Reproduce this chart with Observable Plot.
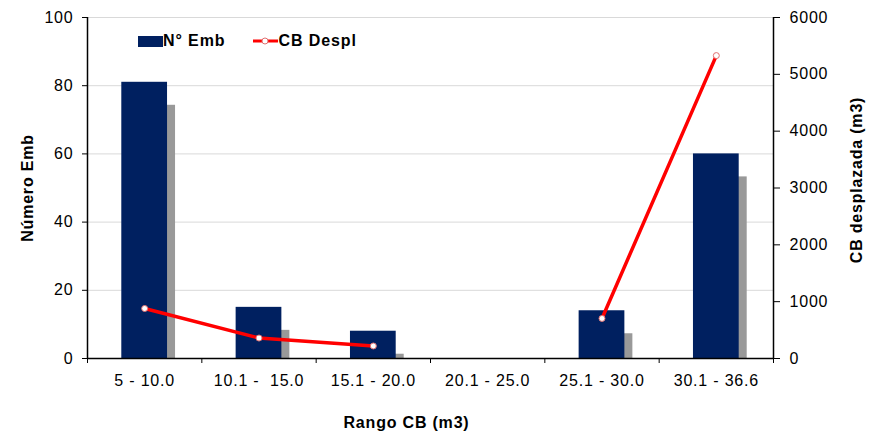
<!DOCTYPE html>
<html>
<head>
<meta charset="utf-8">
<script src="https://cdn.jsdelivr.net/npm/d3@7"></script>
<script src="https://cdn.jsdelivr.net/npm/@observablehq/plot@0.6"></script>
<style>
  html, body { margin: 0; padding: 0; background: #fff; }
  #wrap { position: relative; width: 881px; height: 435px; font-family: "Liberation Sans", Arial, sans-serif; }
  #wrap svg text { white-space: pre; letter-spacing: 0.8px; }
  #wrap g[aria-label="title-left"] text, #wrap g[aria-label="title-bottom"] text { letter-spacing: 1.2px; }
  #wrap g[aria-label="title-right"] text { letter-spacing: 0px; }
  #wrap g[aria-label="shadow"] { filter: blur(0.7px); }
  #legend { position: absolute; left: 138px; top: 32px; display: flex; align-items: center; font-weight: bold; font-size: 16px; letter-spacing: 0.9px; color: #000; }
  #legend .sw { display: inline-block; width: 25px; height: 11px; background: #002060; }
  #legend .item { display: flex; align-items: center; }
</style>
</head>
<body>
<div id="wrap">
  <div id="legend">
    <span class="item"><span class="sw"></span><span>N° Emb</span></span>
    <span class="item" style="margin-left:28px"><svg width="25" height="12"><line x1="0" y1="6" x2="25" y2="6" stroke="#ff0000" stroke-width="3"/><circle cx="12" cy="6" r="3" fill="#fff" stroke="#e07070" stroke-width="1"/></svg><span>CB Despl</span></span>
  </div>
</div>
<script>
const categories = ["5 - 10.0", "10.1 -  15.0", "15.1 - 20.0", "20.1 - 25.0", "25.1 - 30.0", "30.1 - 36.6"];
const numEmb = [81, 15, 8, 0, 14, 60];
const cbDespl = [880, 360, 220, null, 705, 5330];
const leftTicks = [0, 20, 40, 60, 80, 100];
const rightTicks = [0, 1000, 2000, 3000, 4000, 5000, 6000];
const rightMax = 6000;
const leftMax = 100;
const k = rightMax / leftMax;
const titleLeft = "Número Emb";
const titleRight = "CB desplazada (m3)";
const titleBottom = "Rango CB (m3)";

const data = categories.map((c, i) => ({ i, cat: c, emb: numEmb[i], cb: cbDespl[i] }));
const navy = "#002060";

const chart = Plot.plot({
  width: 881,
  height: 435,
  marginLeft: 87,
  marginRight: 108,
  marginTop: 17,
  marginBottom: 77,
  style: { fontFamily: "Liberation Sans, Arial, sans-serif", fontSize: "16px", color: "#000", background: "#fff" },
  x: { domain: [0, categories.length] },
  y: { domain: [0, leftMax] },
  marks: [
    Plot.gridY(leftTicks, { stroke: "#d9d9d9", strokeOpacity: 1 }),
    Plot.rectY(data, { x1: d => d.i + 0.3, x2: d => d.i + 0.7, y: "emb", fill: "#999", dx: 8, dy: 23, clip: true, ariaLabel: "shadow" }),
    Plot.rectY(data, { x1: d => d.i + 0.3, x2: d => d.i + 0.7, y: "emb", fill: navy }),
    Plot.ruleY([0], { stroke: "#000", strokeWidth: 1.5 }),
    Plot.ruleX([0, categories.length], { stroke: "#000", strokeWidth: 1.5 }),
    Plot.line(data, { x: d => d.i + 0.5, y: d => d.cb == null ? NaN : d.cb / k, stroke: "#ff0000", strokeWidth: 3.5 }),
    Plot.dot(data.filter(d => d.cb != null), { x: d => d.i + 0.5, y: d => d.cb / k, r: 3, fill: "#fff", stroke: "#e07070", strokeWidth: 1 }),
    Plot.axisY(leftTicks, { anchor: "left", tickSize: 5, tickPadding: 9, label: null }),
    Plot.axisY(rightTicks.map(v => v / k), { anchor: "right", tickSize: 6, tickPadding: 10, tickFormat: d => String(Math.round(d * k)), label: null }),
    Plot.axisX(d3.range(categories.length + 1), { anchor: "bottom", tickSize: 5, tickFormat: () => "", label: null }),
    Plot.axisX(categories.map((c, i) => i + 0.5), { anchor: "bottom", tickSize: 0, tickPadding: 16, tickFormat: d => categories[Math.floor(d)], label: null }),
    Plot.text([titleLeft], { frameAnchor: "left", dx: -60, rotate: -90, textAnchor: "middle", lineAnchor: "middle", fontWeight: "bold", fontSize: 16, ariaLabel: "title-left" }),
    Plot.text([titleRight], { frameAnchor: "right", dx: 83, dy: -8, rotate: -90, textAnchor: "middle", lineAnchor: "middle", fontWeight: "bold", fontSize: 16, ariaLabel: "title-right" }),
    Plot.text([titleBottom], { frameAnchor: "bottom", dx: -24, dy: 64, textAnchor: "middle", lineAnchor: "middle", fontWeight: "bold", fontSize: 16, ariaLabel: "title-bottom" })
  ]
});
document.getElementById("wrap").prepend(chart);
</script>
</body>
</html>
